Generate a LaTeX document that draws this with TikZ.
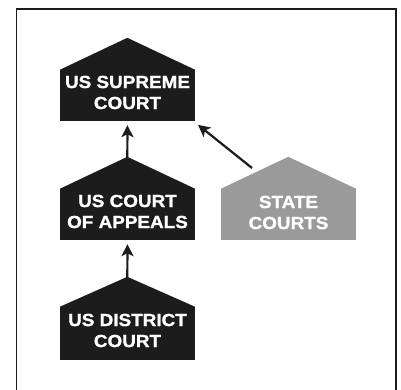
\documentclass[tikz,border=0pt]{standalone}
\usepackage{fontspec}
\setmainfont{Liberation Sans}
\newfontfamily\housefont{Liberation Sans}[FakeStretch=1.08, FakeBold=1.2]
\usetikzlibrary{arrows.meta}
\definecolor{stategray}{HTML}{9A9A9A}
\definecolor{courtblack}{HTML}{1C1C1C}
\tikzset{
  body/.style={fill=#1, minimum width=135pt, minimum height=51pt, inner sep=0pt},
  label text/.style={text=white, align=center, inner sep=0pt,
    font=\housefont\bfseries\fontsize{17.5}{21}\selectfont},
  arr/.style={line width=2.2pt, -{Stealth[length=12pt,width=12pt,inset=3pt]}, draw=courtblack, shorten >=4pt}
}
\begin{document}
\begin{tikzpicture}[x=1pt,y=-1pt]
\useasboundingbox (0,0) rectangle (401,389);
\fill[white] (0,0) rectangle (401,389);
% frame
\draw[line width=1.5pt, courtblack] (16.5,392) -- (16.5,9) -- (396,9) -- (396,392);
% houses
\node[body=courtblack] (sup) at (127.5,95.5) {};
\fill[courtblack] (sup.north west) -- ++(67.5,-32) coordinate (sup-top) -- (sup.north east) -- cycle;
\node[label text] (sup-t) at ([yshift=3pt]sup.center) {US SUPREME\\COURT};
\node[body=courtblack] (app) at (127.5,214.5) {};
\fill[courtblack] (app.north west) -- ++(67.5,-32) coordinate (app-top) -- (app.north east) -- cycle;
\node[label text] (app-t) at ([yshift=3pt]app.center) {US COURT\\OF APPEALS};
\node[body=stategray] (st) at (288.5,214.5) {};
\fill[stategray] (st.north west) -- ++(67.5,-32) coordinate (st-top) -- (st.north east) -- cycle;
\node[label text] (st-t) at ([yshift=2pt]st.center) {STATE\\COURTS};
\node[body=courtblack, minimum height=53pt] (dis) at (127.5,333.5) {};
\fill[courtblack] (dis.north west) -- ++(67.5,-30) coordinate (dis-top) -- (dis.north east) -- cycle;
\node[label text] (dis-t) at ([yshift=3pt]dis.center) {US DISTRICT\\COURT};
% arrows
\coordinate (st-from) at (252,168);
\draw[arr] ([yshift=-2pt]app-top) -- (sup.south);
\draw[arr] ([yshift=-2pt]dis-top) -- (app.south);
\draw[arr, shorten >=1pt] (st-from) -- ([shift={(2,3)}]sup.south east);
\end{tikzpicture}
\end{document}
